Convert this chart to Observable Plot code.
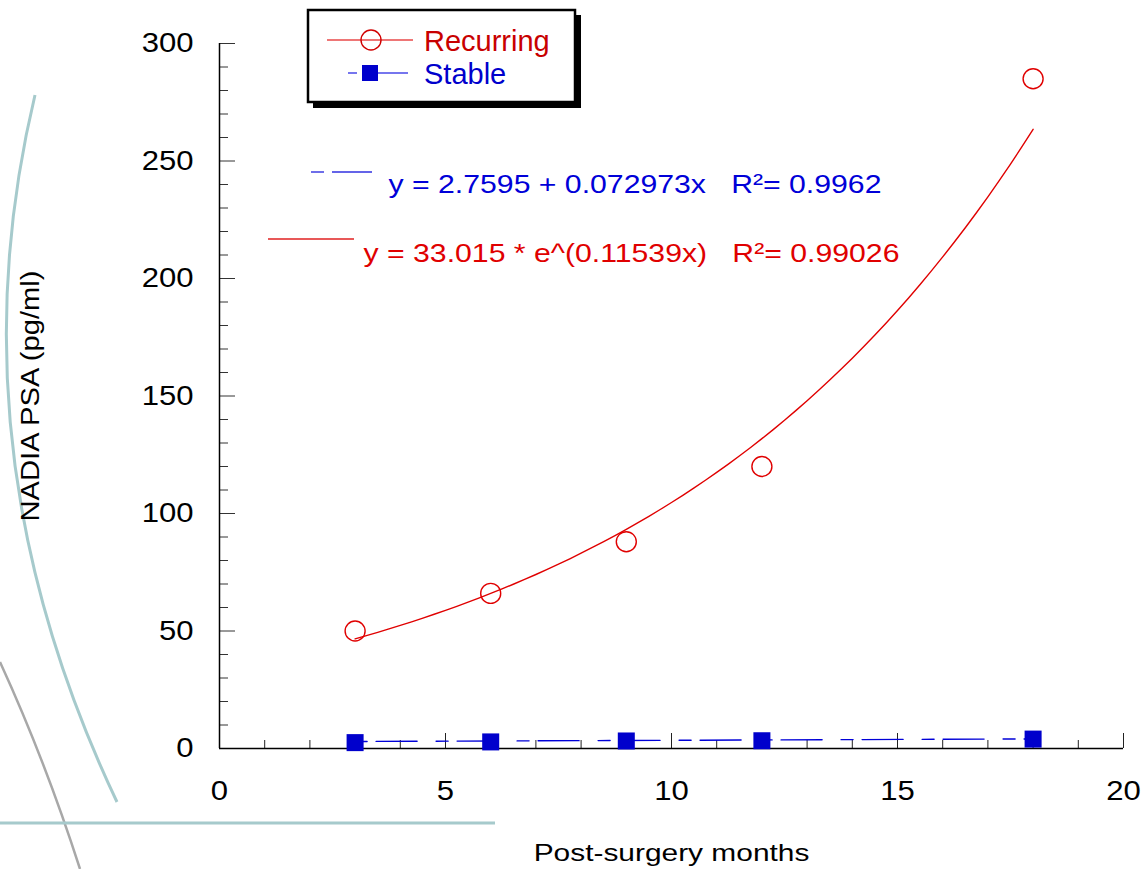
<!DOCTYPE html>
<html><head><meta charset="utf-8">
<script src="https://cdn.jsdelivr.net/npm/d3@7"></script>
<script src="https://cdn.jsdelivr.net/npm/@observablehq/plot@0.6"></script>
<style>
body{margin:0;background:#fff;}
#wrap{position:relative;width:1142px;height:869px;overflow:hidden;font-family:"Liberation Sans",Arial,sans-serif;}
#deco,#chart,#anno{position:absolute;left:0;top:0;}
</style></head><body>
<div id="wrap">
<svg id="deco" width="1142" height="869">
  <path d="M35,95 Q-50,450 117,802" fill="none" stroke="#a6cacc" stroke-width="3"/>
  <path d="M0,662 Q45,760 80,869" fill="none" stroke="#a8a8a8" stroke-width="2.5"/>
  <line x1="0" y1="823" x2="495" y2="823" stroke="#a6cacc" stroke-width="3"/>
</svg>
<div id="chart"></div>
<svg id="anno" width="1142" height="869"></svg>
</div>
<script>
// ---- data ----
const months = [3, 6, 9, 12, 18];
const recurring = [50, 66, 88, 120, 285];
const stable = [2.5, 2.8, 3.2, 3.3, 4.0];
const seriesNames = ["Recurring", "Stable"];
const expFit = {a: 33.015, b: 0.11539};
const linFit = {a: 2.7595, b: 0.072973};
const equationLabels = ["y = 2.7595 + 0.072973x   R\u00b2= 0.9962", "y = 33.015 * e^(0.11539x)   R\u00b2= 0.99026"];
const xTicks = [0, 5, 10, 15, 20];
const xMinorTicks = [1,2,3,4,6,7,8,9,11,12,13,14,16,17,18,19];
const yTicks = [0, 50, 100, 150, 200, 250, 300];
const yMinorTicks = [10,20,30,40,60,70,80,90,110,120,130,140,160,170,180,190,210,220,230,240,260,270,280,290];
const axisTitles = ["Post-surgery months", "NADIA PSA (pg/ml)"];

const RED = "#e00000", BLUE = "#0000d8";
const W = 1142, H = 869, ML = 219, MR = 19, MT = 43, MB = 121;
const FW = W - ML - MR, FH = H - MT - MB;
const recData = months.map((m, i) => ({x: m, y: recurring[i]}));
const stData = months.map((m, i) => ({x: m, y: stable[i]}));
const fitXs = d3.range(months[0], months[months.length-1] + 1e-9, 0.25);
const expCurve = fitXs.map(x => ({x, y: expFit.a * Math.exp(expFit.b * x)}));
const linLine = [months[0], months[months.length-1]].map(x => ({x, y: linFit.a + linFit.b * x}));

const plot = Plot.plot({
  width: W, height: H,
  marginLeft: ML, marginRight: MR, marginTop: MT, marginBottom: MB,
  style: {fontFamily: "Liberation Sans, Arial, sans-serif", fontSize: "26px", background: "transparent", color: "#000"},
  x: {domain: [0, 20], axis: null},
  y: {domain: [0, 300], axis: null},
  marks: [
    Plot.tickY(yMinorTicks, {y: d => d, insetRight: FW - 9, stroke: "#333"}),
    Plot.tickY(yTicks, {y: d => d, insetRight: FW - 16, stroke: "#333"}),
    Plot.text(yTicks, {y: d => d, text: d => String(d), frameAnchor: "left", dx: -26, textAnchor: "end", lineAnchor: "middle", fontSize: 27}),
    Plot.tickX(xMinorTicks, {x: d => d, insetTop: FH - 8, stroke: "#222"}),
    Plot.tickX(xTicks, {x: d => d, insetTop: FH - 15, stroke: "#222"}),
    Plot.text(xTicks, {x: d => d, text: d => String(d), frameAnchor: "bottom", dy: 43, textAnchor: "middle", lineAnchor: "middle", fontSize: 27}),
    Plot.ruleY([0], {stroke: "#000", strokeWidth: 1.5}),
    Plot.ruleX([0], {stroke: "#000", strokeWidth: 1.5}),
    Plot.line(expCurve, {x: "x", y: "y", stroke: RED, strokeWidth: 1.4}),
    Plot.line(linLine, {x: "x", y: "y", stroke: BLUE, strokeWidth: 1.4, strokeDasharray: "12,9,41,19"}),
    Plot.dot(recData, {x: "x", y: "y", r: 10, stroke: RED, strokeWidth: 1.4, fill: "none"}),
    Plot.dot(stData, {x: "x", y: "y", r: 9.6, symbol: "square", fill: "#0000cc", stroke: "none"}),
    Plot.text([equationLabels[0]], {frameAnchor: "top-left", dx: 169, dy: 149, textAnchor: "start", lineAnchor: "bottom", fill: BLUE, fontSize: 26.5}),
    Plot.text([equationLabels[1]], {frameAnchor: "top-left", dx: 144, dy: 218, textAnchor: "start", lineAnchor: "bottom", fill: RED, fontSize: 26.5}),
    Plot.text([axisTitles[0]], {frameAnchor: "bottom", dy: 105, textAnchor: "middle", lineAnchor: "middle", fontSize: 24.5}),
    Plot.text([axisTitles[1]], {frameAnchor: "left", dx: -189, rotate: -90, textAnchor: "middle", lineAnchor: "middle", fontSize: 26})
  ]
});
document.getElementById("chart").appendChild(plot);

// widen glyphs like the reference's horizontally stretched lettering
const stretchFactor = new Map();
yTicks.concat(xTicks).forEach(v => stretchFactor.set(String(v), 1.15));
equationLabels.forEach(s => stretchFactor.set(s, 1.14));
stretchFactor.set(axisTitles[0], 1.22);
stretchFactor.set(axisTitles[1], 1.12);
plot.querySelectorAll("text").forEach(el => {
  const f = stretchFactor.get(el.textContent);
  if (!f) return;
  const L = el.getComputedTextLength();
  el.setAttribute("textLength", L * f);
  el.setAttribute("lengthAdjust", "spacingAndGlyphs");
});

// ---- legend & equation samples ----
const anno = d3.select("#anno");
anno.append("rect").attr("x", 313).attr("y", 15).attr("width", 268).attr("height", 93).attr("fill", "#000");
anno.append("rect").attr("x", 308).attr("y", 10).attr("width", 267).attr("height", 92).attr("fill", "#fff").attr("stroke", "#000").attr("stroke-width", 2.5);
// Recurring
anno.append("line").attr("x1", 327).attr("x2", 413).attr("y1", 40).attr("y2", 40).attr("stroke", "#e84848").attr("stroke-width", 1.5);
anno.append("circle").attr("cx", 371).attr("cy", 40).attr("r", 10).attr("fill", "none").attr("stroke", "#d00000").attr("stroke-width", 1.4);
anno.append("text").attr("x", 424).attr("y", 51).text(seriesNames[0]).attr("fill", "#c80000").attr("font-size", 29).attr("font-family", "Liberation Sans, Arial, sans-serif");
// Stable
anno.append("line").attr("x1", 348).attr("x2", 357).attr("y1", 73).attr("y2", 73).attr("stroke", "#4848e8").attr("stroke-width", 1.5);
anno.append("line").attr("x1", 362).attr("x2", 408).attr("y1", 73).attr("y2", 73).attr("stroke", "#4848e8").attr("stroke-width", 1.5);
anno.append("rect").attr("x", 362).attr("y", 65).attr("width", 16).attr("height", 16).attr("fill", "#0000cc");
anno.append("text").attr("x", 424).attr("y", 84).text(seriesNames[1]).attr("fill", "#0000cc").attr("font-size", 29).attr("font-family", "Liberation Sans, Arial, sans-serif");
// equation samples
anno.append("line").attr("x1", 311).attr("x2", 324).attr("y1", 172).attr("y2", 172).attr("stroke", "#3030e0").attr("stroke-width", 1.4);
anno.append("line").attr("x1", 332).attr("x2", 372).attr("y1", 172).attr("y2", 172).attr("stroke", "#3030e0").attr("stroke-width", 1.4);
anno.append("line").attr("x1", 268).attr("x2", 354).attr("y1", 239).attr("y2", 239).attr("stroke", "#e02020").attr("stroke-width", 1.4);
</script>
</body></html>
